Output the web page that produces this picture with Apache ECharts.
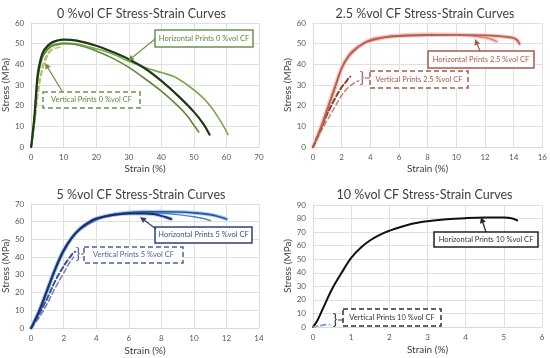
<!DOCTYPE html>
<html><head><meta charset="utf-8">
<script src="https://cdn.jsdelivr.net/npm/echarts@6/dist/echarts.min.js"></script>
<style>html,body{margin:0;padding:0;background:#fff}#c{width:550px;height:358px}</style>
</head><body><div id="c"></div>
<script>
// ---- Data ----
var titles = ['0 %vol CF Stress-Strain Curves','2.5 %vol CF Stress-Strain Curves','5 %vol CF Stress-Strain Curves','10 %vol CF Stress-Strain Curves'];
var xMax = [70, 16, 14, 6];
var xStep = [10, 2, 2, 1];
var yMax = [60, 60, 70, 90];
var yStep = [10, 10, 10, 10];
var xName = 'Strain (%)';
var yName = 'Stress (MPa)';
var labelsH = ['Horizontal Prints 0 %vol CF','Horizontal Prints 2.5 %vol CF','Horizontal Prints 5 %vol CF','Horizontal Prints 10 %vol CF'];
var labelsV = ['Vertical Prints 0 %vol CF','Vertical Prints 2.5 %vol CF','Vertical Prints 5 %vol CF','Vertical Prints 10 %vol CF'];

// 0 %vol CF
var h0_dark = [[0,0],[1,15],[2,35],[3,43],[4,47],[6,50.2],[8,51.5],[10,52],[14,51.5],[20,49],[25,46],[30,42.5],[35,38],[40,32],[45,25],[50,17],[53,11],[54.8,6]];
var h0_long = [[0,0],[1,14],[2,33],[3,42],[4,46],[6,49],[8,50],[10,50.3],[14,49.8],[20,47.5],[25,45],[30,41.5],[35,38.5],[40,36],[44,34],[48,30],[52,25],[55,20],[58,13],[60.5,6]];
var h0_short = [[0,0],[1,14],[2,33],[3,41],[4,45],[6,48.5],[8,49.5],[10,50],[14,49.5],[20,46.5],[25,43],[30,38.5],[35,33],[40,27],[45,20],[48,15],[50,10.5],[51.5,7.3]];
var v0_a = [[0,0],[1,10],[2,24],[3,34],[4,40],[5,44],[6,46.5],[7,47.5],[8,48],[9,48.3]];
var v0_b = [[0,0],[1,11],[2,26],[3,36],[4,42],[5,45],[6,47],[7,48]];

// 2.5 %vol CF
var h25_a = [[0,0],[0.5,8],[1,18],[1.5,28],[2,38],[2.5,44],[3,47.5],[3.5,50],[4,51.5],[5,53],[6,53.7],[8,54.2],[10,54.3],[12,54],[13,53.6],[13.8,53],[14.2,52],[14.4,50]];
var h25_b = [[0,0],[0.5,9],[1,19],[1.5,29],[2,38.5],[2.5,44.5],[3,48],[4,52],[5,53.3],[6,54],[8,54.5],[10,54.3],[11,53.8],[12,53],[12.5,52],[12.8,51]];
var v25_a = [[0,0],[0.5,8],[1,16],[1.5,23],[2,29],[2.3,31.5],[2.5,33.5],[2.6,34]];
var v25_b = [[0,0],[0.5,7],[1,13],[1.5,19],[2,25],[2.5,29],[3,31.5],[3.2,32]];

// 5 %vol CF
var h5_a = [[0,0],[0.5,10],[1,22],[1.5,34],[2,44],[2.5,51],[3,56],[3.5,59.5],[4,61.8],[5,63.8],[6,64.6],[7,64.7],[7.5,64.3],[8,63.3],[8.3,62.5],[8.6,61.5]];
var h5_b = [[0,0],[0.5,9],[1,21],[1.5,33],[2,43],[2.5,50.5],[3,55.5],[4,61],[5,63.5],[6,64.5],[7,65],[8,64.8],[9,64],[10,62.8],[10.6,61.8],[11,60.7]];
var h5_c = [[0,0],[0.5,9.5],[1,21.5],[1.5,33.5],[2,43.5],[2.5,51],[3,56],[4,61.5],[5,64],[6,65.2],[7,65.6],[8,65.6],[9,65.5],[10,65],[11,64],[11.5,63],[12,61.5]];
var v5_a = [[0,0],[0.5,8],[1,17],[1.5,27],[2,35],[2.3,39],[2.6,42.5],[2.7,43]];
var v5_b = [[0,0],[0.5,6],[1,14],[1.5,23],[2,31],[2.3,36],[2.6,40]];

// 10 %vol CF
var h10 = [[0,0],[0.1,4],[0.25,13],[0.5,28],[0.75,40],[1,51],[1.25,58.5],[1.5,64],[1.75,68],[2,71],[2.5,75.5],[3,78],[3.5,79.5],[4,80.3],[4.5,80.7],[5,80.7],[5.2,80.2],[5.35,78.6]];
var v10_a = [[0,0],[0.1,0.5],[0.2,1.1],[0.3,1.8],[0.4,2.2]];
var v10_b = [[0,0],[0.1,0.4],[0.2,0.8],[0.3,1.3],[0.45,1.6]];

// ---- Layout ----
var grids = [
  {left:30, top:23, width:229, height:124},
  {left:313, top:23, width:230, height:124},
  {left:29, top:204, width:230, height:124},
  {left:313, top:205, width:229, height:122}
];
var FONT = 'Lato';
var chart = echarts.init(document.getElementById('c'));

function ln(g, data, color, width, dashed, z){
  return {type:'line', xAxisIndex:g, yAxisIndex:g, data:data, showSymbol:false, smooth:0.35,
    sampling:null, silent:true, z:z||2, lineStyle:{color:color, width:width, type: dashed ? [5,3] : 'solid', join:'round', cap:'round'}};
}

var series = [
  ln(0, v0_a, '#cdb86a', 1.5, true), ln(0, v0_b, '#a8c37a', 1.5, true),
  ln(0, h0_long, '#7aa84f', 1.6), ln(0, h0_short, '#5a8a38', 1.6), ln(0, h0_dark, '#1d3a17', 2.2, false, 3),
  ln(1, h25_a, '#f3c4bf', 4, false, 1), ln(1, h25_b, '#f6d0cc', 4, false, 1),
  ln(1, h25_b, '#d98a80', 1.4), ln(1, h25_a, '#b4604f', 1.8, false, 3),
  ln(1, v25_b, '#c97a68', 1.4, true), ln(1, v25_a, '#8e3b2c', 2, true),
  ln(2, h5_c, '#a9d2ee', 4, false, 1), ln(2, h5_a, '#a9d2ee', 4, false, 1),
  ln(2, h5_b, '#5b7fc7', 1.5), ln(2, h5_c, '#2f4f9a', 1.6), ln(2, h5_a, '#1f2f6b', 2, false, 3),
  ln(2, v5_b, '#6f7fb8', 1.5, true), ln(2, v5_a, '#3f4f8f', 2, true),
  ln(3, h10, '#111111', 2),
  ln(3, v10_a, '#4472c4', 1.3, true), ln(3, v10_b, '#8faadc', 1.3, true)
];

var xAxes = [], yAxes = [], titleArr = [];
for (var i=0;i<4;i++){
  xAxes.push({gridIndex:i, type:'value', min:0, max:xMax[i], interval:xStep[i], name:xName, nameLocation:'middle', nameGap: i<2?17:18,
    nameTextStyle:{color:'#404040', fontSize:10, fontFamily:FONT},
    axisLine:{lineStyle:{color:'#d9d9d9'}}, axisTick:{show:false},
    axisLabel:{color:'#595959', fontSize:8, fontFamily:FONT, margin:6},
    splitLine:{show:true, lineStyle:{color:'#e0e0e0', width:1}}});
  yAxes.push({gridIndex:i, type:'value', min:0, max:yMax[i], interval:yStep[i], name:yName, nameLocation:'middle', nameGap:19,
    nameTextStyle:{color:'#404040', fontSize:10, fontFamily:FONT},
    axisLine:{show:true, lineStyle:{color:'#d9d9d9'}}, axisTick:{show:false},
    axisLabel:{color:'#595959', fontSize:8, fontFamily:FONT, margin:7},
    splitLine:{show:true, lineStyle:{color:'#e0e0e0', width:1}}});
  titleArr.push({text:titles[i], left: grids[i].left + grids[i].width/2 - 8, top: i<2?2:183, textAlign:'center',
    textStyle:{color:'#404040', fontSize:12.5, fontWeight:'normal', fontFamily:FONT}});
}

// annotation graphics
var G = [];
function box(x,y,w,h,color,txtColor,text,dashed){
  G.push({type:'rect', z:100, shape:{x:x,y:y,width:w,height:h}, style:{fill:'#fff', stroke:color, lineWidth:1.5, lineDash: dashed?[5,3]:null}});
  G.push({type:'text', z:101, x:x+w/2, y:y+h/2, style:{text:text, fill:txtColor, font:'7.5px '+FONT, textAlign:'center', textVerticalAlign:'middle'}});
}
function arrow(x1,y1,x2,y2,color){
  var a = Math.atan2(y2-y1, x2-x1), L=6, W=3;
  var bx = x2 - L*Math.cos(a), by = y2 - L*Math.sin(a);
  G.push({type:'line', z:100, shape:{x1:x1,y1:y1,x2:bx,y2:by}, style:{stroke:color, lineWidth:1.2}});
  G.push({type:'polygon', z:100, shape:{points:[[x2,y2],[bx + W*Math.sin(a), by - W*Math.cos(a)],[bx - W*Math.sin(a), by + W*Math.cos(a)]]}, style:{fill:color}});
}
function brace(x,y,color,x2){
  G.push({type:'text', z:101, x:x, y:y, style:{text:'}', fill:color, font:'15px '+FONT, textAlign:'center', textVerticalAlign:'middle'}});
  G.push({type:'line', z:100, shape:{x1:x+3,y1:y,x2:x2,y2:y}, style:{stroke:color, lineWidth:1}});
}
// panel 1
box(155,30,98,17,'#6e9150','#5a8a38',labelsH[0],false);
arrow(155,39,128,61,'#6e9150');
box(43,92,97,16,'#6e9150','#5a8a38',labelsV[0],true);
arrow(62,91,45,63,'#6e9150');
// panel 2
box(428,51,106,17,'#a8584a','#a8584a',labelsH[1],false);
arrow(480,51,475,39,'#a8584a');
box(370,71,98,17,'#a8584a','#a8584a',labelsV[1],true);
brace(362,78,'#a8584a',370);
// panel 3
box(155,227,97,16,'#2f3f7f','#3f4f8f',labelsH[2],false);
arrow(156,229,140,217,'#2f3f7f');
box(84,247,99,16,'#4f5f9f','#4f5f9f',labelsV[2],true);
brace(78,254,'#4f5f9f',84);
// panel 4
box(434,232,104,15,'#222','#333',labelsH[3],false);
arrow(486,232,481,217,'#222');
box(343,309,98,17,'#333','#333',labelsV[3],true);
brace(335,320,'#333',343);

chart.setOption({
  animation:false,
  backgroundColor:'#fff',
  title:titleArr,
  grid:grids,
  xAxis:xAxes,
  yAxis:yAxes,
  series:series,
  graphic:G
});
</script></body></html>
